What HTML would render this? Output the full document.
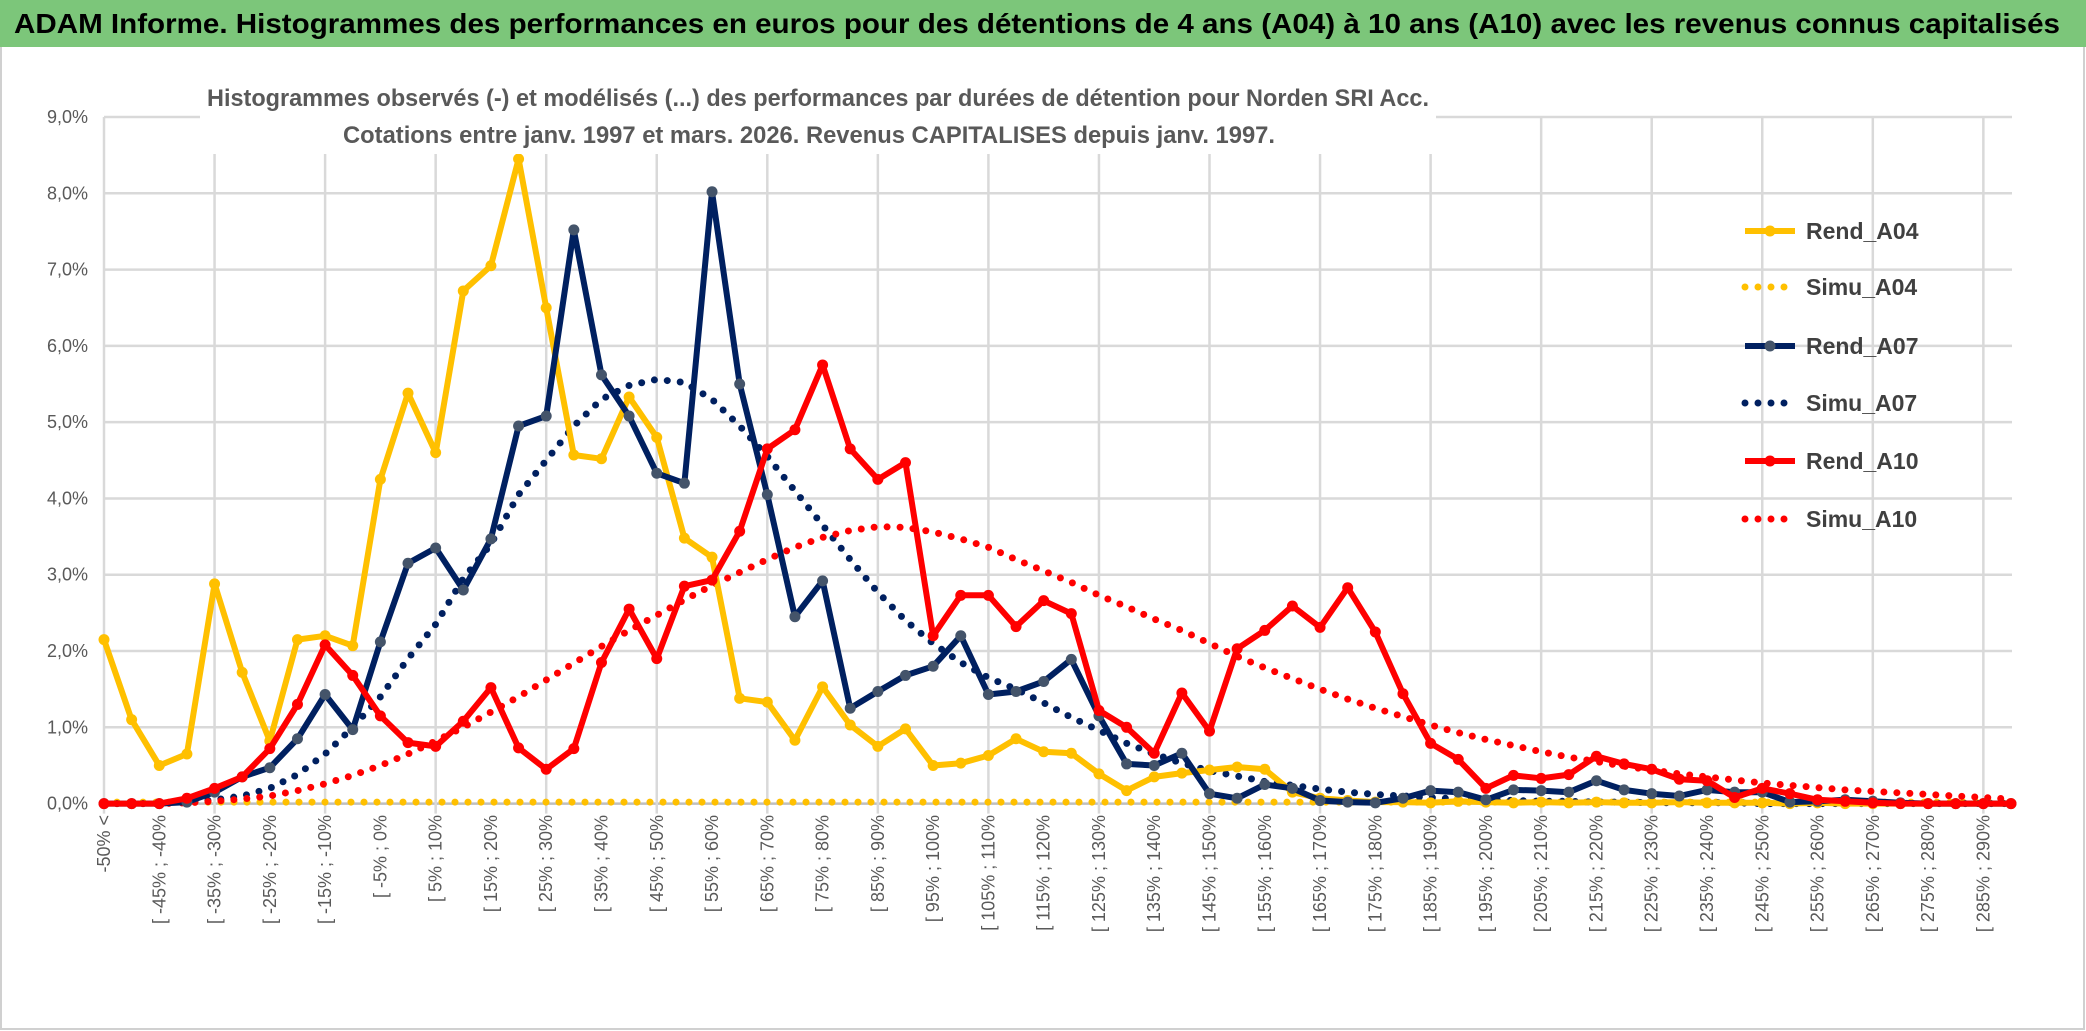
<!DOCTYPE html>
<html><head><meta charset="utf-8"><style>
html,body{margin:0;padding:0;background:#fff;}
svg{display:block;}
</style></head><body>
<svg id="chart" width="2086" height="1031" viewBox="0 0 2086 1031" xmlns="http://www.w3.org/2000/svg" font-family="'Liberation Sans Narrow','Liberation Sans',sans-serif">
<rect x="0" y="0" width="2086" height="1031" fill="#fff"/>
<rect x="1" y="1" width="2083" height="1028" fill="none" stroke="#d0d0d0" stroke-width="2"/>
<rect x="0" y="0" width="2086" height="47" fill="#7cc67a"/>
<text x="14" y="33" font-size="28" font-weight="bold" fill="#000" textLength="2046" lengthAdjust="spacingAndGlyphs">ADAM Informe. Histogrammes des performances en euros pour des détentions de 4 ans (A04) à 10 ans (A10) avec les revenus connus capitalisés</text>
<g id="grid"></g>
<g id="series"></g>
<rect x="200" y="76" width="1236" height="78" fill="#fff"/>
<text x="818" y="106" font-size="24" font-weight="bold" fill="#595959" text-anchor="middle" textLength="1222" lengthAdjust="spacingAndGlyphs">Histogrammes observés (-) et modélisés (...) des performances par durées de détention pour Norden SRI Acc.</text>
<text x="809" y="143" font-size="24" font-weight="bold" fill="#595959" text-anchor="middle" textLength="932" lengthAdjust="spacingAndGlyphs">Cotations entre janv. 1997 et mars. 2026. Revenus CAPITALISES depuis janv. 1997.</text>
<g id="yaxis"></g>
<g id="xaxis"></g>
<g id="legend"></g>
</svg>
<script>
const yTicks = ["0,0%","1,0%","2,0%","3,0%","4,0%","5,0%","6,0%","7,0%","8,0%","9,0%"];
const rendA04 = [2.15,1.1,0.5,0.65,2.88,1.72,0.82,2.15,2.2,2.07,4.25,5.38,4.6,6.72,7.05,8.45,6.5,4.57,4.52,5.33,4.8,3.48,3.23,1.38,1.33,0.83,1.53,1.03,0.75,0.98,0.5,0.53,0.63,0.85,0.68,0.66,0.39,0.17,0.35,0.40,0.44,0.48,0.45,0.15,0.07,0.04,0.02,0.02,0.01,0.03,0.02,0.01,0.02,0.01,0.02,0.01,0.01,0.02,0.01,0.01,0.01,0,0.01,0,0,0,0,0,0,0];
const simuA04 = [0.02,0.02,0.02,0.02,0.02,0.02,0.02,0.02,0.02,0.02,0.02,0.02,0.02,0.02,0.02,0.02,0.02,0.02,0.02,0.02,0.02,0.02,0.02,0.02,0.02,0.02,0.02,0.02,0.02,0.02,0.02,0.02,0.02,0.02,0.02,0.02,0.02,0.02,0.02,0.02,0.02,0.02,0.02,0.02,0.02,0.02,0.02,0.02,0.02,0.02,0.02,0.02,0.02,0.02,0.02,0.02,0.02,0.02,0.02,0.02,0.02,0.02,0.02,0.02,0.02,0.02,0.02,0.02,0.02,0.02];
const rendA07 = [0,0,0,0.02,0.15,0.35,0.47,0.85,1.43,0.97,2.12,3.15,3.35,2.8,3.47,4.95,5.08,7.52,5.62,5.08,4.33,4.2,8.02,5.5,4.05,2.45,2.92,1.25,1.47,1.68,1.8,2.2,1.43,1.47,1.6,1.89,1.15,0.52,0.50,0.66,0.13,0.07,0.25,0.2,0.04,0.02,0.01,0.07,0.17,0.15,0.05,0.18,0.17,0.15,0.3,0.18,0.13,0.1,0.18,0.15,0.15,0.02,0.03,0.05,0.03,0.01,0,0,0,0];
const simuA07 = [0,0,0,0.02,0.05,0.1,0.2,0.38,0.65,1.0,1.4,1.9,2.35,2.95,3.4,4.05,4.5,4.95,5.3,5.48,5.56,5.52,5.3,4.95,4.55,4.1,3.65,3.2,2.77,2.4,2.1,1.85,1.65,1.5,1.32,1.13,0.96,0.79,0.65,0.53,0.43,0.36,0.29,0.24,0.19,0.15,0.12,0.1,0.08,0.06,0.05,0.04,0.03,0.03,0.02,0.02,0.01,0.01,0.01,0.01,0,0,0,0,0,0,0,0,0,0];
const rendA10 = [0,0,0,0.07,0.2,0.35,0.72,1.3,2.08,1.68,1.15,0.8,0.75,1.08,1.52,0.73,0.45,0.72,1.85,2.55,1.9,2.85,2.93,3.57,4.65,4.9,5.75,4.65,4.25,4.47,2.2,2.73,2.73,2.32,2.66,2.49,1.22,1.0,0.66,1.45,0.95,2.03,2.27,2.59,2.31,2.83,2.25,1.44,0.79,0.58,0.2,0.37,0.33,0.38,0.62,0.52,0.45,0.32,0.3,0.08,0.2,0.13,0.05,0.03,0.01,0,0,0,0,0];
const simuA10 = [0,0,0,0.01,0.03,0.06,0.1,0.17,0.26,0.37,0.5,0.65,0.82,1.0,1.2,1.4,1.62,1.84,2.06,2.27,2.47,2.67,2.86,3.03,3.2,3.36,3.49,3.58,3.63,3.62,3.56,3.47,3.36,3.2,3.05,2.9,2.73,2.58,2.42,2.27,2.1,1.93,1.78,1.64,1.5,1.37,1.25,1.14,1.03,0.93,0.84,0.76,0.68,0.61,0.55,0.49,0.44,0.39,0.35,0.31,0.27,0.24,0.21,0.18,0.16,0.14,0.12,0.1,0.08,0.06];
const legendNames = ["Rend_A04","Simu_A04","Rend_A07","Simu_A07","Rend_A10","Simu_A10"];

const NS = "http://www.w3.org/2000/svg";
const N = rendA04.length;
const X0 = 104, X1 = 2011, Y0 = 803.6, YTOP = 117;
function xScale(i){ return X0 + i*(X1-X0)/(N-1); }
function yScale(v){ return Y0 - v*(Y0-YTOP)/9; }
function catLabel(i){
  if(i===0) return "-50% <";
  const a = -50 + 5*(i-1), b = a + 5;
  return "[ " + a + "% ; " + b + "%";
}
function mk(tag, attrs, parent){
  const e = document.createElementNS(NS, tag);
  for(const k in attrs) e.setAttribute(k, attrs[k]);
  parent.appendChild(e);
  return e;
}
const grid = document.getElementById("grid");
yTicks.forEach((t,k)=>{
  const y = yScale(k);
  const l = mk("line",{x1:X0,x2:X1+1,y1:y,y2:y,stroke:k===0?"#bfbfbf":"#d9d9d9","stroke-width":2.5},grid);
  
  
});
for(let i=0;i<N;i+=4){
  const x = xScale(i);
  const l = mk("line",{x1:x,x2:x,y1:YTOP,y2:Y0+10,stroke:"#d9d9d9","stroke-width":2.5},grid);
  
  
}
const yaxis = document.getElementById("yaxis");
yTicks.forEach((t,k)=>{
  const tx = mk("text",{x:88,y:yScale(k)+6,"font-size":18,fill:"#595959","text-anchor":"end"},yaxis);
  tx.textContent = t;
  
  
});
const xaxis = document.getElementById("xaxis");
for(let i=0;i<N;i+=2){
  const x = xScale(i)+6;
  const tx = mk("text",{x:0,y:0,"font-size":18,fill:"#595959","text-anchor":"end",transform:"translate("+x+",815) rotate(-90)"},xaxis);
  tx.textContent = catLabel(i);
  
  
}
const seriesG = document.getElementById("series");
function pts(arr){ return arr.map((v,i)=>xScale(i).toFixed(1)+","+yScale(v).toFixed(1)).join(" "); }
function dotted(arr,color,name){
  const p = mk("polyline",{points:pts(arr),fill:"none",stroke:color,"stroke-width":7,"stroke-linecap":"round","stroke-linejoin":"round","stroke-dasharray":"0 13"},seriesG);
  
  
}
function solid(arr,color,mcolor,name){
  const p = mk("polyline",{points:pts(arr),fill:"none",stroke:color,"stroke-width":6,"stroke-linejoin":"round"},seriesG);
  
  
  arr.forEach((v,i)=>{
    const c = mk("circle",{cx:xScale(i),cy:yScale(v),r:5.5,fill:mcolor},seriesG);
    
    
  });
}
dotted(simuA04,"#ffc000","simu-a04-line");
dotted(simuA07,"#002060","simu-a07-line");
dotted(simuA10,"#ff0000","simu-a10-line");
solid(rendA04,"#ffc000","#ffc000","rend-a04-line");
solid(rendA07,"#002060","#44546a","rend-a07-line");
solid(rendA10,"#ff0000","#ff0000","rend-a10-line");

const legend = document.getElementById("legend");
const legColors = ["#ffc000","#ffc000","#002060","#002060","#ff0000","#ff0000"];
const legY = [231,287,346,403,461,519];
legendNames.forEach((nm,k)=>{
  const y = legY[k];
  const dot = k%2===1;
  const l = mk("line",{x1:1745,x2:1795,y1:y,y2:y,stroke:legColors[k],"stroke-width":dot?7:6,"stroke-linecap":dot?"round":"butt","stroke-dasharray":dot?"0 13":"none"},legend);
  
  
  if(!dot){
    const c = mk("circle",{cx:1770,cy:y,r:5.5,fill:k===2?"#44546a":legColors[k]},legend);
    
    
  }
  const tx = mk("text",{x:1806,y:y+8,"font-size":23,"font-weight":"bold",fill:"#404040"},legend);
  tx.textContent = nm;
  
  
});
</script>
</body></html>
